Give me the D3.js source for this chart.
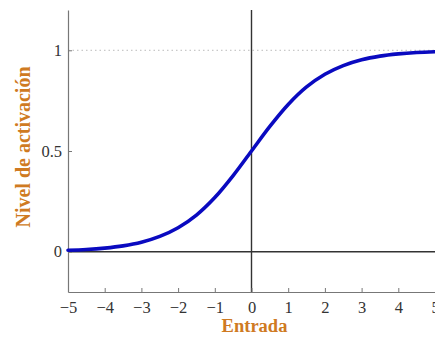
<!DOCTYPE html>
<html>
<head>
<meta charset="utf-8">
<script src="https://cdn.jsdelivr.net/npm/d3@7"></script>
<style>
  html, body { margin: 0; padding: 0; background: #fff; }
  svg { display: block; }
</style>
</head>
<body>
<svg id="chart" width="435" height="339"></svg>
<script>
// Activation curve sampled along the input axis
const entrada = [-5, -4.5, -4, -3.5, -3, -2.5, -2, -1.5, -1, -0.5, 0, 0.5, 1, 1.5, 2, 2.5, 3, 3.5, 4, 4.5, 5];
const activacion = [0.007, 0.011, 0.018, 0.029, 0.047, 0.076, 0.119, 0.182, 0.269, 0.378, 0.5,
                    0.622, 0.731, 0.818, 0.881, 0.924, 0.953, 0.971, 0.982, 0.989, 0.993];
const xTicks = [-5, -4, -3, -2, -1, 0, 1, 2, 3, 4, 5];
const yTicks = [0, 0.5, 1];

const svg = d3.select("#chart");
const margin = { left: 68, right: 0, top: 10, bottom: 47 };
const W = 435, H = 339;

const x = d3.scaleLinear().domain([-5, 5]).range([margin.left, 435]);
const y = d3.scaleLinear().domain([-0.2, 1.2]).range([H - margin.bottom, margin.top]);

const fmt = d => (d < 0 ? "\u2212" + Math.abs(d) : String(d));
const serif = "'Liberation Serif', 'DejaVu Serif', serif";
const axisGray = "#777";

// dotted guide at the saturation level
svg.append("line")
  .attr("x1", x(-5)).attr("x2", x(5))
  .attr("y1", y(1)).attr("y2", y(1))
  .attr("stroke", "#bbb").attr("stroke-width", 1)
  .attr("stroke-dasharray", "1.5,3");

// reference lines through the origin
svg.append("line")
  .attr("x1", x(-5)).attr("x2", x(5))
  .attr("y1", y(0)).attr("y2", y(0))
  .attr("stroke", "#333").attr("stroke-width", 1.4);
svg.append("line")
  .attr("x1", x(0)).attr("x2", x(0))
  .attr("y1", y(1.2)).attr("y2", y(-0.2))
  .attr("stroke", "#333").attr("stroke-width", 1.4);

// bottom axis, ticks pointing inward
const xAxis = d3.axisBottom(x).tickValues(xTicks).tickFormat(fmt).tickSizeInner(-4).tickSizeOuter(0).tickPadding(9);
const gx = svg.append("g").attr("transform", `translate(0,${y(-0.2)})`).call(xAxis);
gx.select(".domain").attr("stroke", axisGray).attr("stroke-width", 1.2);
gx.selectAll(".tick line").attr("stroke", axisGray);
gx.selectAll("text").attr("font-family", serif).attr("font-size", 16.5).attr("fill", "#333");

// left axis, ticks pointing inward
const yAxis = d3.axisLeft(y).tickValues(yTicks).tickFormat(fmt).tickSizeInner(-4).tickSizeOuter(0).tickPadding(6);
const gy = svg.append("g").attr("transform", `translate(${x(-5)},0)`).call(yAxis);
gy.select(".domain").attr("stroke", axisGray).attr("stroke-width", 1.2);
gy.selectAll(".tick line").attr("stroke", axisGray);
gy.selectAll("text").attr("font-family", serif).attr("font-size", 16.5).attr("fill", "#333");

// activation curve
const line = d3.line()
  .x((d, i) => x(entrada[i]))
  .y(d => y(d))
  .curve(d3.curveCatmullRom.alpha(0.5));
svg.append("path")
  .datum(activacion)
  .attr("d", line)
  .attr("fill", "none")
  .attr("stroke", "#0a0ac0")
  .attr("stroke-width", 3.6)
  .attr("stroke-linecap", "round");

// axis titles
const orange = "#cf7a22";
svg.append("text")
  .attr("x", x(0) + 3).attr("y", 332)
  .attr("text-anchor", "middle")
  .attr("font-family", serif).attr("font-weight", "bold").attr("font-size", 18.5)
  .attr("fill", orange)
  .text("Entrada");
svg.append("text")
  .attr("transform", `translate(30,147) rotate(-90)`)
  .attr("text-anchor", "middle")
  .attr("font-family", serif).attr("font-weight", "bold").attr("font-size", 20)
  .attr("fill", orange)
  .text("Nivel de activación");
</script>
</body>
</html>
